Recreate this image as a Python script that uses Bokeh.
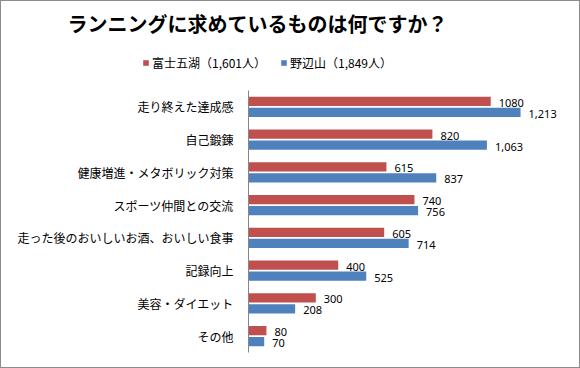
from bokeh.plotting import figure
from bokeh.layouts import column
from bokeh.models import FactorRange, Range1d, ColumnDataSource, Legend, LegendItem
from bokeh.transform import dodge
from bokeh.core.properties import value
from bokeh.embed import file_html
from bokeh.resources import INLINE

categories = ["走り終えた達成感", "自己鍛錬", "健康増進・メタボリック対策", "スポーツ仲間との交流",
              "走った後のおいしいお酒、おいしい食事", "記録向上", "美容・ダイエット", "その他"]
fuji = [1080, 820, 615, 740, 605, 400, 300, 80]
nobe = [1213, 1063, 837, 756, 714, 525, 208, 70]
fuji_labels = ["1080", "820", "615", "740", "605", "400", "300", "80"]
nobe_labels = ["1,213", "1,063", "837", "756", "714", "525", "208", "70"]
series_names = ["富士五湖（1,601人）", "野辺山（1,849人）"]
title_text = "ランニングに求めているものは何ですか？"

RED = "#C0504D"
BLUE = "#4F81BD"
JP = "Noto Sans CJK JP"

# ---- header figure: title + legend ----
top = figure(width=578, height=85, x_range=Range1d(0, 1), y_range=Range1d(0, 1),
             output_backend="svg", toolbar_location=None, min_border=0)
top.frame_align = False
top.axis.visible = False
top.grid.visible = False
top.outline_line_color = None
top.title.text = title_text
top.title.text_font = JP
top.title.text_font_size = "20px"
top.title.text_font_style = "bold"
top.title.text_color = "black"
top.title.align = "left"
top.title.offset = 66
top.title.standoff = 10

# legend swatches (kept outside the visible range of the header figure)
d1 = top.hbar(y=[-5], left=[-5], right=[-4], height=0.5, fill_color=RED, line_color=None)
d2 = top.hbar(y=[-5], left=[-5], right=[-4], height=0.5, fill_color=BLUE, line_color=None)
legend = Legend(items=[LegendItem(label=series_names[0], renderers=[d1]),
                       LegendItem(label=series_names[1], renderers=[d2])],
                orientation="horizontal", location=(141, 15),
                glyph_width=7, glyph_height=7, label_standoff=3, spacing=14,
                padding=0, margin=0, border_line_color=None,
                background_fill_alpha=0,
                label_text_font=JP, label_text_font_size="12px",
                label_text_color="black")
top.add_layout(legend, "center")

# ---- main chart ----
src = ColumnDataSource(dict(cat=categories, fuji=fuji, nobe=nobe,
                            fl=fuji_labels, nl=nobe_labels))

p = figure(width=578, height=281,
           y_range=FactorRange(*reversed(categories)),
           x_range=Range1d(0, 1400),
           output_backend="svg", toolbar_location=None,
           min_border_left=247, min_border_right=17,
           min_border_top=4, min_border_bottom=15)
p.frame_align = False
p.y_range.range_padding = 0

off = 0.168
p.hbar(y=dodge("cat", off, range=p.y_range), left=0, right="fuji", height=0.275,
       source=src, fill_color=RED, line_color=None)
p.hbar(y=dodge("cat", -off, range=p.y_range), left=0, right="nobe", height=0.275,
       source=src, fill_color=BLUE, line_color=None)

p.text(x="fuji", y=dodge("cat", off, range=p.y_range), text="fl", source=src,
       x_offset=8, y_offset=1.5, text_baseline="middle", text_align="left",
       text_font=value("Noto Sans"), text_font_size="11px", text_color="black")
p.text(x="nobe", y=dodge("cat", -off, range=p.y_range), text="nl", source=src,
       x_offset=8, y_offset=1.5, text_baseline="middle", text_align="left",
       text_font=value("Noto Sans"), text_font_size="11px", text_color="black")

p.xaxis.visible = False
p.xgrid.visible = False
p.ygrid.visible = False
p.outline_line_color = None

ax = p.yaxis[0]
ax.axis_line_color = "#868686"
ax.major_tick_line_color = None
ax.minor_tick_line_color = None
ax.major_tick_out = 0
ax.major_tick_in = 0
ax.major_label_standoff = 15
ax.major_label_text_font = JP
ax.major_label_text_font_size = "12px"
ax.major_label_text_color = "black"

layout = column(top, p, spacing=0)
layout.styles = {"border": "1px solid #8c8c8c"}

open("out.html", "w").write(file_html(layout, INLINE))
